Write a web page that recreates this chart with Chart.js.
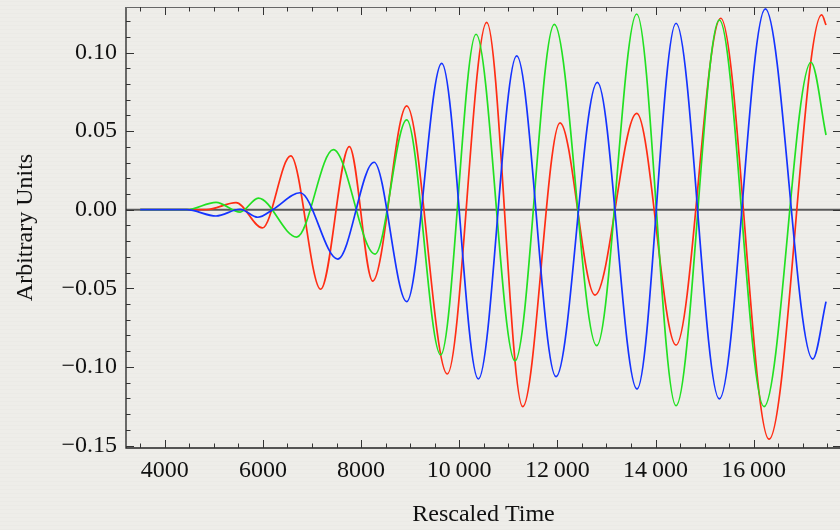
<!DOCTYPE html>
<html>
<head>
<meta charset="utf-8">
<script src="https://cdn.jsdelivr.net/npm/chart.js@4.4.1/dist/chart.umd.min.js"></script>
<style>
  html, body { margin: 0; padding: 0; overflow: hidden; }
  body {
    width: 840px; height: 530px;
    background-color: #eeede9;
    background-image: repeating-linear-gradient(0deg, rgba(0,0,0,0.012) 0px, rgba(0,0,0,0.012) 1px, rgba(255,255,255,0) 1px, rgba(255,255,255,0) 4px);
  }
  #wrap { position: absolute; left: 0; top: 0; }
</style>
</head>
<body>
<div id="wrap"><canvas id="waveChart" width="850" height="530"></canvas></div>
<script>
// tick labels
const xTickValues = [4000, 6000, 8000, 10000, 12000, 14000, 16000];
const yTickValues = [-0.15, -0.10, -0.05, 0.00, 0.05, 0.10];

// red curve (extrema)
const redX = [3500, 4000, 4500, 4850, 5453, 5989, 6567, 7178, 7761, 8238, 8931, 9758, 10561, 11294, 12054, 12767, 13617, 14418, 15328, 16313, 17386, 17474];
const redY = [0, 0, 0, 0, 0.0045, -0.0116, 0.0342, -0.0506, 0.0401, -0.0454, 0.0660, -0.1045, 0.1192, -0.1253, 0.0553, -0.0543, 0.0613, -0.0861, 0.1218, -0.1459, 0.1239, 0.1175];

// green curve
const greenX = [3500, 4000, 4450, 5045, 5538, 5907, 6689, 7435, 8285, 8931, 9623, 10343, 11137, 11938, 12802, 13617, 14418, 15300, 16211, 17168, 17474];
const greenY = [0, 0, 0, 0.0047, -0.0015, 0.0074, -0.0174, 0.0382, -0.0282, 0.0571, -0.0924, 0.1116, -0.0962, 0.1179, -0.0865, 0.1245, -0.1247, 0.1207, -0.1253, 0.0938, 0.0475];

// blue curve
const blueX = [3500, 4000, 4450, 5045, 5534, 5895, 6213, 6757, 7525, 8265, 8931, 9644, 10390, 11172, 11973, 12814, 13623, 14418, 15300, 16237, 17203, 17474];
const blueY = [0, 0, 0, -0.0040, 0.0003, -0.0048, 0.0003, 0.0108, -0.0314, 0.0302, -0.0585, 0.0931, -0.1077, 0.0978, -0.1062, 0.0810, -0.1141, 0.1186, -0.1204, 0.1277, -0.0950, -0.0585];

function toPoints(xs, ys) {
    return xs.map((x, i) => ({ x: x, y: ys[i] }));
}

function fmtY(v) {
    const r = Math.round(v * 100) / 100;
    return (r < -1e-9 ? '\u2212' : '') + Math.abs(r).toFixed(2);
}

function fmtX(v) {
    if (v >= 10000) {
        const s = String(v);
        return s.slice(0, s.length - 3) + '\u2009' + s.slice(-3);
    }
    return String(v);
}

const serif = "'Liberation Serif', 'Times New Roman', serif";

// frame, inward ticks and the zero line
const framePlugin = {
    id: 'frame',
    beforeDatasetsDraw(chart) {
        const { ctx, chartArea, scales } = chart;
        const y0 = scales.y.getPixelForValue(0);
        ctx.save();
        ctx.strokeStyle = '#5a5a5a';
        ctx.lineWidth = 2;
        ctx.beginPath();
        ctx.moveTo(chartArea.left, y0);
        ctx.lineTo(chartArea.right, y0);
        ctx.stroke();
        ctx.restore();
    },
    afterDatasetsDraw(chart) {
        const { ctx, chartArea, scales } = chart;
        const { left, right, top, bottom } = chartArea;
        ctx.save();
        ctx.strokeStyle = '#222';
        ctx.lineWidth = 1.3;
        ctx.beginPath();
        ctx.moveTo(left, top);
        ctx.lineTo(left, bottom);
        ctx.lineTo(right, bottom);
        ctx.lineTo(right, top);
        ctx.stroke();
        ctx.strokeStyle = '#666';
        ctx.lineWidth = 1;
        ctx.beginPath();
        ctx.moveTo(left, top + 0.5);
        ctx.lineTo(right, top + 0.5);
        ctx.stroke();

        ctx.strokeStyle = '#333';
        ctx.lineWidth = 1;
        ctx.beginPath();
        for (let v = 3500; v <= 17500; v += 500) {
            const px = Math.round(scales.x.getPixelForValue(v)) + 0.5;
            const len = v % 2000 === 0 ? 8 : 4.5;
            ctx.moveTo(px, bottom);
            ctx.lineTo(px, bottom - len);
            ctx.moveTo(px, top);
            ctx.lineTo(px, top + len);
        }
        for (let k = -15; k <= 12; k++) {
            const py = Math.round(scales.y.getPixelForValue(k / 100)) + 0.5;
            const len = k % 5 === 0 ? 8 : 4.5;
            ctx.moveTo(left, py);
            ctx.lineTo(left + len, py);
            ctx.moveTo(right, py);
            ctx.lineTo(right - len, py);
        }
        ctx.stroke();
        ctx.restore();
    }
};

const ctx = document.getElementById('waveChart').getContext('2d');
const waveChart = new Chart(ctx, {
    type: 'line',
    data: {
        datasets: [
            { label: 'red', data: toPoints(redX, redY), borderColor: '#ff2d14', order: 3 },
            { label: 'green', data: toPoints(greenX, greenY), borderColor: '#22e022', order: 2 },
            { label: 'blue', data: toPoints(blueX, blueY), borderColor: '#1433ff', order: 1 }
        ]
    },
    options: {
        responsive: false,
        animation: false,
        devicePixelRatio: 1,
        layout: { padding: { left: 0, right: 9, top: 7, bottom: 0 } },
        elements: {
            line: { borderWidth: 1.7, cubicInterpolationMode: 'monotone', fill: false },
            point: { radius: 0 }
        },
        plugins: {
            legend: { display: false },
            tooltip: { enabled: false }
        },
        scales: {
            x: {
                type: 'linear',
                min: 3211,
                max: 17779,
                grid: { display: false, drawTicks: false },
                border: { display: false },
                ticks: {
                    padding: 8,
                    color: '#111',
                    font: { family: serif, size: 24 },
                    maxRotation: 0,
                    autoSkip: false,
                    callback: v => fmtX(v)
                },
                afterBuildTicks: scale => { scale.ticks = xTickValues.map(v => ({ value: v })); },
                afterFit: scale => {
                    scale.height = 82;
                    scale.paddingLeft = 0; scale.paddingRight = 0;
                },
                title: {
                    display: true,
                    text: 'Rescaled Time',
                    color: '#111',
                    font: { family: serif, size: 24 },
                    padding: { top: 0, bottom: 1 }
                }
            },
            y: {
                type: 'linear',
                min: -0.15159,
                max: 0.12895,
                grid: { display: false, drawTicks: false },
                border: { display: false },
                ticks: {
                    padding: 9,
                    color: '#111',
                    font: { family: serif, size: 24 },
                    autoSkip: false,
                    callback: v => fmtY(v)
                },
                afterBuildTicks: scale => { scale.ticks = yTickValues.map(v => ({ value: v })); },
                afterFit: scale => {
                    scale.width = 126;
                    scale.paddingTop = 0; scale.paddingBottom = 0;
                },
                title: {
                    display: true,
                    text: 'Arbitrary Units',
                    color: '#111',
                    font: { family: serif, size: 24 },
                    padding: { top: 11, bottom: 0 }
                }
            }
        }
    },
    plugins: [framePlugin]
});
</script>
</body>
</html>
